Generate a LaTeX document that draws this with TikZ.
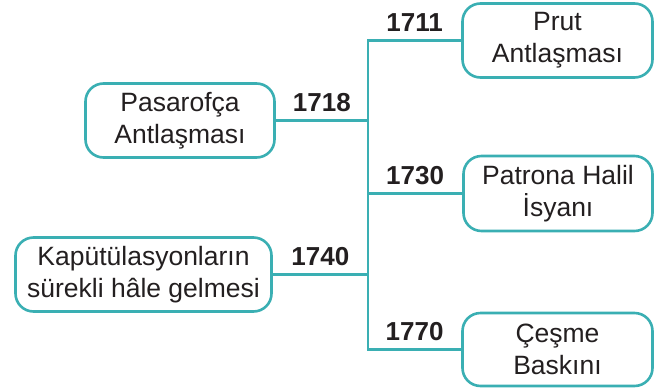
\documentclass[tikz,border=0pt]{standalone}
\usepackage{fontspec}
\setmainfont{Liberation Sans}
\usetikzlibrary{calc}
\definecolor{teal1}{HTML}{3AAFB3}
\definecolor{ink}{HTML}{231F20}
\tikzset{
  evbox/.style={draw=teal1, line width=2.6pt, rounded corners=18pt, fill=white,
    align=center, text=ink, inner sep=0pt,
    font=\fontsize{26.5}{32}\selectfont},
  conn/.style={draw=teal1, line width=2.4pt},
  year/.style={anchor=base, inner sep=0pt, text=ink, font=\fontsize{26}{30}\selectfont\bfseries, yshift=9pt}
}
\begin{document}
\begin{tikzpicture}[x=1pt,y=-1pt]
\useasboundingbox (0,0) rectangle (667,389);
\coordinate (bus) at (368,0);
\node[evbox, minimum width=190pt, minimum height=74pt] (prut) at (557.5,40.5) {Prut\\Antlaşması};
\node[evbox, minimum width=189pt, minimum height=74pt] (pas) at (180,120.5) {Pasarofça\\Antlaşması};
\node[evbox, minimum width=189pt, minimum height=75pt] (pat) at (558,193.5) {Patrona Halil\\İsyanı};
\node[evbox, minimum width=256pt, minimum height=74pt] (kap) at (143.5,274.5) {Kapütülasyonların\\sürekli hâle gelmesi};
\node[evbox, minimum width=190pt, minimum height=73pt] (ces) at (557.5,349.5) {Çeşme\\Baskını};
\draw[conn] (prut.west) -- (prut.west -| bus) -- (ces.west -| bus) -- (ces.west);
\draw[conn] (pat.west) -- (pat.west -| bus);
\draw[conn] (pas.east) -- (pas.east -| bus);
\draw[conn] (kap.east) -- (kap.east -| bus);
\node[year] (y1711) at ($(prut.west)!0.5!(prut.west -| bus)$) {1711};
\node[year] (y1718) at ($(pas.east)!0.5!(pas.east -| bus)$) {1718};
\node[year] (y1730) at ($(pat.west)!0.5!(pat.west -| bus)$) {1730};
\node[year] (y1740) at ($(kap.east)!0.5!(kap.east -| bus)$) {1740};
\node[year] (y1770) at ($(ces.west)!0.5!(ces.west -| bus)$) {1770};
\end{tikzpicture}
\end{document}
